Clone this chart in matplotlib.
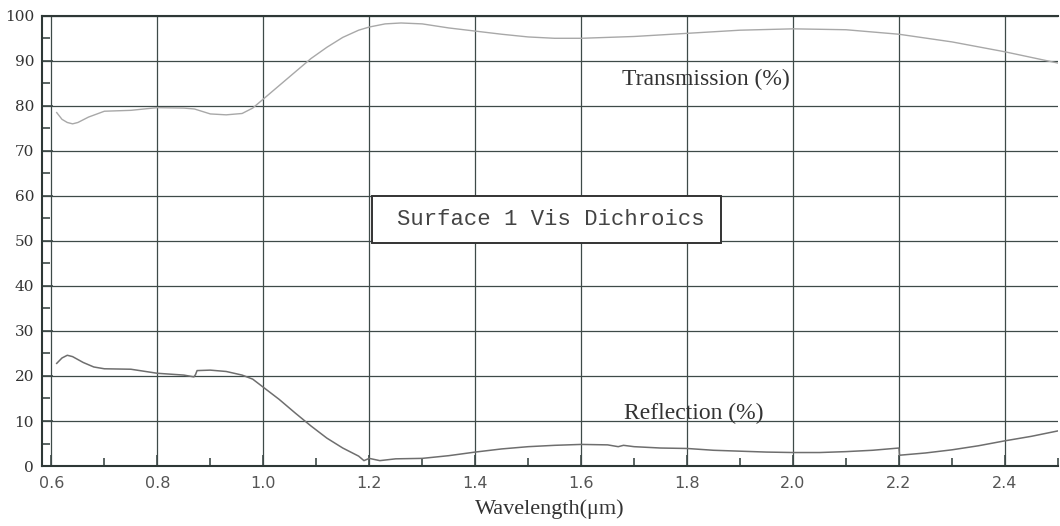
import matplotlib
matplotlib.use("Agg")
import matplotlib.pyplot as plt
from matplotlib.patches import Rectangle
from matplotlib.ticker import MultipleLocator

# transmission curve (light gray)
trans_wl = [0.61, 0.62, 0.63, 0.64, 0.65, 0.67, 0.70, 0.75, 0.80, 0.85, 0.87, 0.90,
            0.93, 0.96, 0.98, 1.00, 1.03, 1.06, 1.09, 1.12, 1.15, 1.18, 1.20, 1.23,
            1.26, 1.30, 1.35, 1.40, 1.45, 1.50, 1.55, 1.60, 1.70, 1.80, 1.90, 2.00,
            2.10, 2.20, 2.30, 2.40, 2.50]
trans_pct = [78.5, 77.0, 76.3, 76.0, 76.3, 77.5, 78.8, 79.0, 79.6, 79.5, 79.3, 78.2,
             78.0, 78.3, 79.5, 81.5, 84.5, 87.5, 90.5, 93.0, 95.2, 96.8, 97.5, 98.2,
             98.4, 98.2, 97.3, 96.6, 95.9, 95.3, 95.0, 95.0, 95.4, 96.1, 96.8, 97.1,
             96.9, 95.9, 94.2, 92.0, 89.5]

# reflection curve (darker gray)
refl_wl = [0.61, 0.62, 0.63, 0.64, 0.66, 0.68, 0.70, 0.75, 0.80, 0.85, 0.869, 0.872,
           0.875, 0.90, 0.93, 0.96, 0.98, 1.00, 1.03, 1.06, 1.09, 1.12, 1.15, 1.18,
           1.19, 1.20, 1.22, 1.25, 1.30, 1.35, 1.40, 1.45, 1.50, 1.55, 1.60, 1.65,
           1.67, 1.68, 1.70, 1.75, 1.80, 1.85, 1.90, 1.95, 2.00, 2.05, 2.10, 2.15,
           2.20, 2.201, 2.25, 2.30, 2.35, 2.40, 2.45, 2.50]
refl_pct = [22.8, 24.0, 24.6, 24.3, 23.0, 22.0, 21.6, 21.5, 20.6, 20.2, 19.8, 20.3,
            21.2, 21.3, 21.0, 20.2, 19.3, 17.5, 14.8, 11.8, 8.9, 6.2, 4.0, 2.2,
            1.2, 1.7, 1.2, 1.6, 1.7, 2.3, 3.1, 3.8, 4.3, 4.6, 4.8, 4.7,
            4.3, 4.6, 4.3, 4.0, 3.9, 3.5, 3.3, 3.1, 3.0, 3.0, 3.2, 3.5,
            4.0, 2.4, 2.9, 3.6, 4.5, 5.6, 6.6, 7.8]

x_ticks = [0.6, 0.8, 1.0, 1.2, 1.4, 1.6, 1.8, 2.0, 2.2, 2.4]
y_ticks = [0, 10, 20, 30, 40, 50, 60, 70, 80, 90, 100]

grid_col = "#3e4a48"
text_col = "#333333"

fig = plt.figure(figsize=(10.6, 5.26), dpi=100)
ax = fig.add_axes([0.040, 0.114, 0.958, 0.856])

ax.plot(trans_wl, trans_pct, color="#a8a8a8", lw=1.0, zorder=3)
ax.plot(refl_wl, refl_pct, color="#6e6e6e", lw=1.1, zorder=3)

ax.set_xlim(0.583, 2.5)
ax.set_ylim(0, 100)
ax.set_xticks(x_ticks)
ax.set_xticklabels([f"{v:.1f}" for v in x_ticks])
ax.set_yticks(y_ticks)
ax.set_yticklabels([str(v) for v in y_ticks])
ax.xaxis.set_minor_locator(MultipleLocator(0.1))
ax.yaxis.set_minor_locator(MultipleLocator(5))

ax.grid(True, which="major", color=grid_col, lw=0.9)
ax.tick_params(which="major", direction="in", length=8, width=1.2, color=grid_col)
ax.tick_params(which="minor", direction="in", length=6, width=1.2, color=grid_col)
ax.tick_params(axis="y", pad=6)
ax.tick_params(axis="x", pad=7)

for lbl in ax.get_yticklabels():
    lbl.set_family("DejaVu Serif")
    lbl.set_fontsize(11)
    lbl.set_color(text_col)
for lbl in ax.get_xticklabels():
    lbl.set_family("DejaVu Sans")
    lbl.set_fontsize(11.5)
    lbl.set_color("#555555")

for side in ["left", "bottom", "top"]:
    ax.spines[side].set_color("#2e3836")
    ax.spines[side].set_linewidth(1.5)
ax.spines["right"].set_visible(False)

ax.set_xlabel("Wavelength(\u03bcm)", family="Liberation Serif", fontsize=16,
              color=text_col, labelpad=6)

ax.text(1.677, 85.8, "Transmission (%)", family="Liberation Serif", fontsize=17,
        color=text_col, ha="left", va="center")
ax.text(1.681, 11.6, "Reflection (%)", family="Liberation Serif", fontsize=17,
        color=text_col, ha="left", va="center")

# label box
ax.add_patch(Rectangle((1.206, 49.6), 0.658, 10.4, facecolor="white",
                       edgecolor="#333333", linewidth=1.4, zorder=4))
ax.text(1.543, 54.8, "Surface 1 Vis Dichroics", family="Liberation Mono",
        fontsize=16, color="#444444", ha="center", va="center", zorder=5)

fig.savefig("out.png", dpi=100, facecolor="white")
